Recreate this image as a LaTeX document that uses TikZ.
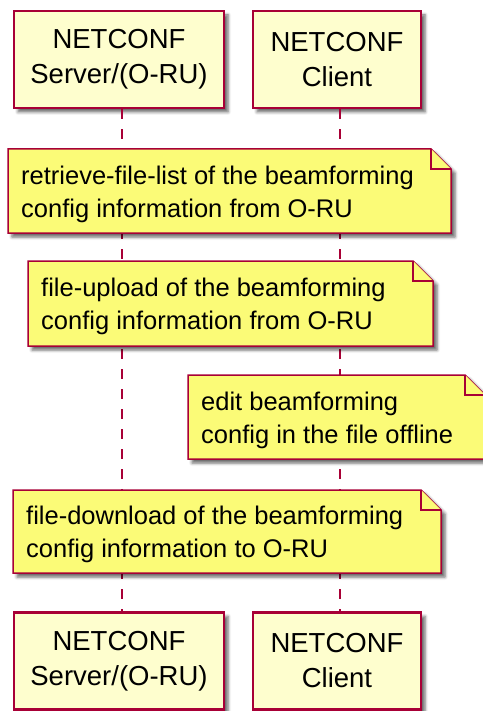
\documentclass[tikz,border=0pt]{standalone}
\usepackage{fontspec}
\setmainfont{Liberation Sans}
\usetikzlibrary{shadows.blur}
\definecolor{umlred}{HTML}{A80036}
\definecolor{partfill}{HTML}{FEFECE}
\definecolor{notefill}{HTML}{FBFB77}
\tikzset{
  umlshadow/.style={blur shadow={shadow xshift=4pt, shadow yshift=-4pt, shadow blur radius=3pt, shadow opacity=60}},
  part/.style={draw=umlred, fill=partfill, line width=2.5pt, minimum height=97pt, align=center,
    inner sep=0pt, umlshadow, font=\fontsize{27.5}{35}\selectfont},
  lifeline/.style={draw=umlred, line width=1.5pt, dash pattern=on 10pt off 10pt},
  noteline/.style={draw=umlred, fill=notefill, line width=1.5pt},
  notetext/.style={anchor=west, align=left, inner sep=0pt, font=\fontsize{25.5}{33}\selectfont}
}
% name, left, top, width, height, text
\newcommand{\notebox}[6]{%
  \filldraw[noteline, umlshadow] (#2,#3) -- (#2+#4-20,#3) -- (#2+#4,#3+20) -- (#2+#4,#3+#5) -- (#2,#3+#5) -- cycle;
  \draw[noteline] (#2+#4-20,#3) -- (#2+#4-20,#3+20) -- (#2+#4,#3+20);
  \node[notetext] (#1) at (#2+13,#3+#5/2+3) {#6};
}
\begin{document}
\begin{tikzpicture}[x=1pt, y=-1pt]
  \useasboundingbox (0,0) rectangle (482,711);
  % participants
  \node[part, minimum width=210pt] (srvtop) at (119,59.5) {NETCONF\\Server/(O-RU)};
  \node[part, minimum width=168pt] (clitop) at (337,59.5) {NETCONF\\Client};
  \node[part, minimum width=210pt] (srvbot) at (119,661) {NETCONF\\Server/(O-RU)};
  \node[part, minimum width=168pt] (clibot) at (337,661) {NETCONF\\Client};
  \draw[lifeline] ([xshift=3pt]srvtop.south) -- ([xshift=3pt]srvbot.north);
  \draw[lifeline] ([xshift=3pt]clitop.south) -- ([xshift=3pt]clibot.north);
  % notes
  \notebox{listnote}{8}{149}{443}{84}{retrieve-file-list of the beamforming\\config information from O-RU}
  \notebox{upnote}{28}{261}{405}{85}{file-upload of the beamforming\\config information from O-RU}
  \notebox{editnote}{188}{375}{297}{84}{edit beamforming\\config in the file offline}
  \notebox{downnote}{13}{490}{428}{83}{file-download of the beamforming\\config information to O-RU}
\end{tikzpicture}
\end{document}
